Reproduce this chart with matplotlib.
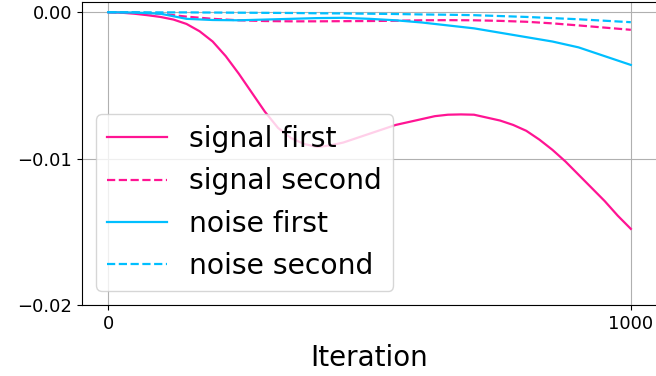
import matplotlib
matplotlib.use('Agg')
import matplotlib.pyplot as plt

# values
iters_a = list(range(0, 1001, 25))
signal_first = [0, -0.00003, -0.0001, -0.0002, -0.00032, -0.0005, -0.0008,
                -0.0013, -0.0020, -0.0030, -0.0042, -0.0055, -0.0068,
                -0.0079, -0.0086, -0.0090, -0.0092, -0.0091, -0.0089,
                -0.0086, -0.0083, -0.0080, -0.0077, -0.0075, -0.0073,
                -0.0071, -0.0070, -0.00698, -0.0070, -0.0072, -0.0074,
                -0.0077, -0.0081, -0.0087, -0.0094, -0.0102, -0.0111,
                -0.0120, -0.0129, -0.0139, -0.0148]

iters_b = list(range(0, 1001, 50))
signal_second = [0, -0.00002, -0.0001, -0.0003, -0.00045, -0.00055, -0.0006,
                 -0.00062, -0.00062, -0.00061, -0.0006, -0.00058, -0.00055,
                 -0.00054, -0.00055, -0.00059, -0.00065, -0.00076, -0.0009,
                 -0.00105, -0.0012]
noise_first = [0, -0.00002, -0.0001, -0.00045, -0.00053, -0.00055, -0.0005,
               -0.00045, -0.0004, -0.00038, -0.00045, -0.00055, -0.0007,
               -0.0009, -0.0011, -0.0014, -0.0017, -0.0020, -0.0024,
               -0.0030, -0.0036]
noise_second = [0, 0, -0.00001, -0.00001, -0.00002, -0.00003, -0.00004,
                -0.00005, -0.00007, -0.00008, -0.0001, -0.00012, -0.00015,
                -0.00017, -0.0002, -0.00026, -0.00032, -0.0004, -0.00048,
                -0.00058, -0.00068]

pink = '#ff1493'
cyan = '#00bfff'

fig = plt.figure(figsize=(6.56, 3.76), dpi=100)
# right edge of the axes runs just past the picture, as in the reference
ax = fig.add_axes([82 / 656, 71 / 376, 590 / 656, 303 / 376])

ax.plot(iters_a, signal_first, color=pink, lw=1.6, label='signal first')
ax.plot(iters_b, signal_second, color=pink, lw=1.6, ls='--', label='signal second')
ax.plot(iters_b, noise_first, color=cyan, lw=1.6, label='noise first')
ax.plot(iters_b, noise_second, color=cyan, lw=1.6, ls='--', label='noise second')

ax.set_xlim(-50, -50 + 590 / 0.5227)
ax.set_ylim(-0.02, 0.0007)
ax.set_xticks([0, 1000])
ax.set_yticks([0, -0.01, -0.02])
ax.set_yticklabels(['0.00', '\u22120.01', '\u22120.02'])
ax.tick_params(labelsize=13)
ax.grid(True, color='#b0b0b0')
ax.set_xlabel('Iteration', fontsize=20, labelpad=8, x=0.486)
ax.legend(loc='lower left', fontsize=20.3, handlelength=2.1)

fig.savefig('out.png', dpi=100)
